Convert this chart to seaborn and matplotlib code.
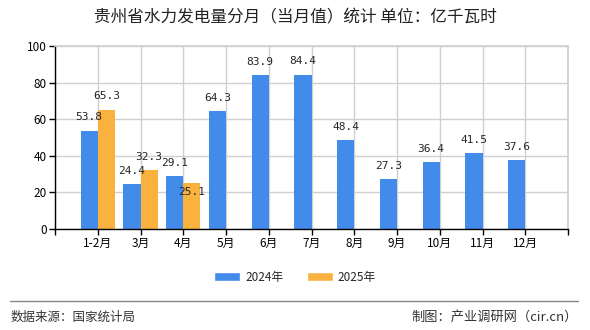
import matplotlib
matplotlib.use("Agg")
import matplotlib.pyplot as plt
import seaborn as sns
import pandas as pd
import numpy as np
from matplotlib.lines import Line2D
from matplotlib.patches import Patch

categories = ["1-2月", "3月", "4月", "5月", "6月", "7月", "8月", "9月", "10月", "11月", "12月"]
values_2024 = [53.8, 24.4, 29.1, 64.3, 83.9, 84.4, 48.4, 27.3, 36.4, 41.5, 37.6]
values_2025 = [65.3, 32.3, 25.1, None, None, None, None, None, None, None, None]
series_names = ["2024年", "2025年"]
colors = ["#428BEB", "#FAB23F"]

sns.set_theme(style="white")
plt.rcParams['font.family'] = ['Noto Sans CJK SC', 'DejaVu Sans']

rows = []
for i, c in enumerate(categories):
    rows.append({"cat": c, "series": series_names[0], "val": values_2024[i]})
    if values_2025[i] is not None:
        rows.append({"cat": c, "series": series_names[1], "val": values_2025[i]})
df = pd.DataFrame(rows)

fig = plt.figure(figsize=(5.9, 3.3), dpi=100)
ax = fig.add_axes([55/590, 1-229/330, (568-55)/590, (229-46)/330])

bw = 0.4
d24 = df[df.series == series_names[0]].copy()
d25 = df[df.series == series_names[1]].copy()
d24["pos"] = [categories.index(c) - bw/2 for c in d24.cat]
d25["pos"] = [categories.index(c) + bw/2 for c in d25.cat]
sns.barplot(data=d24, x="pos", y="val", native_scale=True, color=colors[0], width=bw, ax=ax, saturation=1, edgecolor="none")
sns.barplot(data=d25, x="pos", y="val", native_scale=True, color=colors[1], width=bw, ax=ax, saturation=1, edgecolor="none")

ax.set_xlim(-1, len(categories))
ax.set_ylim(0, 100)
ax.set_xticks(list(range(-1, len(categories) + 1)))
ax.set_xticklabels([""] + categories + [""])
ax.set_yticks([0, 20, 40, 60, 80, 100])
ax.set_xlabel("")
ax.set_ylabel("")
ax.grid(True, color="#d0d0d0", linewidth=1)
ax.set_axisbelow(True)
for s in ["top", "right"]:
    ax.spines[s].set_color("#d0d0d0")
for s in ["left", "bottom"]:
    ax.spines[s].set_color("black")
    ax.spines[s].set_linewidth(1)
ax.tick_params(axis="both", which="both", length=4, width=1, color="black", labelsize=8.5, pad=2, labelcolor="black")
ax.tick_params(axis="x", direction="out", bottom=True)
ax.tick_params(axis="y", direction="out", left=True)

mono = ['DejaVu Sans Mono']
for _, r in d24.iterrows():
    ax.annotate(f"{r.val:.1f}", (r.pos, r.val), xytext=(0, 9.5), textcoords="offset points",
                ha="center", va="center", fontsize=8, family=mono)
for _, r in d25.iterrows():
    off = 9.5 if r.val > 30 else -6.5
    ax.annotate(f"{r.val:.1f}", (r.pos, r.val), xytext=(0, off), textcoords="offset points",
                ha="center", va="center", fontsize=8, family=mono)

fig.text(0.5, 1-18/330, "贵州省水力发电量分月（当月值）统计 单位：亿千瓦时", ha="center", va="center",
         fontsize=12, color="#222222")

handles = [Patch(facecolor=colors[0], label=series_names[0]), Patch(facecolor=colors[1], label=series_names[1])]
fig.legend(handles=handles, loc="center", bbox_to_anchor=(0.5, 1-277/330), ncol=2, frameon=False,
           fontsize=8.5, handlelength=2.2, handleheight=0.9, columnspacing=2.0, handletextpad=0.4)

fig.add_artist(Line2D([10/590, 578/590], [1-301/330, 1-301/330], color="#888888", linewidth=1))
fig.text(11/590, 1-317/330, "数据来源：国家统计局", ha="left", va="center", fontsize=9, color="#333333")
fig.text(578/590, 1-317/330, "制图：产业调研网（cir.cn）", ha="right", va="center", fontsize=9.5, color="#333333")

fig.savefig("out.png", dpi=100)
